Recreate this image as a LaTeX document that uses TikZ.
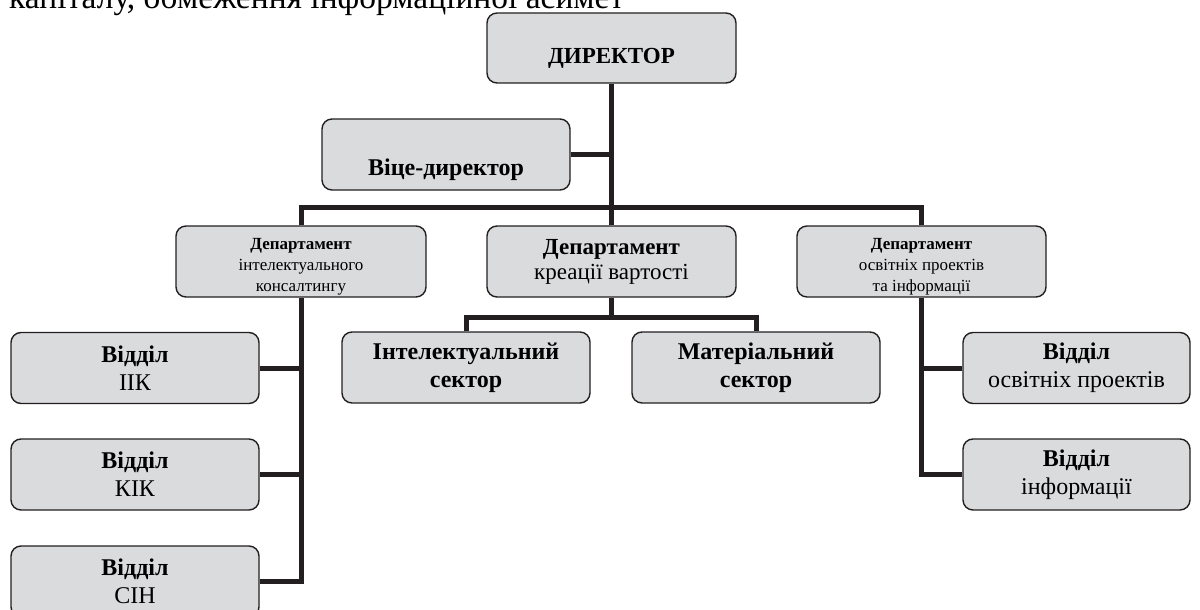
\documentclass[tikz,border=0pt]{standalone}
\usepackage{fontspec}
\setmainfont{Liberation Serif}
\usetikzlibrary{backgrounds}
\definecolor{boxfill}{HTML}{DADBDD}
\definecolor{boxline}{HTML}{231F20}
\begin{document}
\begin{tikzpicture}[x=1pt,y=-1pt,
  box/.style={draw=boxline, line width=1.4pt, fill=boxfill, rounded corners=10pt,
              align=center, inner sep=0pt, minimum width=248pt, minimum height=71pt},
  txt/.style={align=center, inner sep=0pt},
  conn/.style={line width=5pt, draw=boxline, line join=miter},
  fbig/.style={font=\fontsize{24}{28}\selectfont},
  fmid/.style={font=\fontsize{23}{25}\selectfont},
  fsmall/.style={font=\fontsize{17}{21}\selectfont},
]
\path[use as bounding box] (0,0) rectangle (1200,610);
\clip (0,0) rectangle (1200,610);

\node[anchor=base west, font=\fontsize{33.5}{38}\selectfont, inner sep=0pt] (toptext) at (9,9)
  {капіталу, обмеження інформаційної асимет};

\node[box, minimum width=249pt, minimum height=70pt] (dir) at (611.5,48) {};
\node[txt, font=\fontsize{23}{28}\selectfont\bfseries, yshift=-10pt] (dirt) at (dir) {ДИРЕКТОР};

\node[box] (vice) at (446,154.5) {};
\node[txt, font=\fontsize{24}{28}\selectfont\bfseries, yshift=-15pt] (vicet) at (vice) {Віце-директор};

\node[box, minimum width=250pt] (dL) at (301,261.5) {};
\node[txt, fsmall, yshift=-5pt] (dLt) at (dL)
  {\textbf{Департамент}\\інтелектуального\\консалтингу};
\node[box, fmid, minimum width=249pt] (dM) at (611.5,261.5)
  {\textbf{Департамент}\\креації вартості};
\node[box, minimum width=249pt] (dR) at (921.5,261.5) {};
\node[txt, fsmall, yshift=-5pt] (dRt) at (dR)
  {\textbf{Департамент}\\освітніх проектів\\та інформації};

\node[box, fbig] (sI) at (466,367.5) {\textbf{Інтелектуальний}\\\textbf{сектор}};
\node[box, fbig] (sM) at (756,367.5) {\textbf{Матеріальний}\\\textbf{сектор}};

\node[box, fbig] (o1) at (135,368) {\textbf{Відділ}\\ІІК};
\node[box, fbig] (o2) at (135,474.5) {\textbf{Відділ}\\КІК};
\node[box, fbig] (o3) at (135,581.5) {\textbf{Відділ}\\СІН};

\node[box, fbig, minimum width=227pt] (o4) at (1076.5,368) {\textbf{Відділ}\\освітніх проектів};
\node[box, fbig, minimum width=227pt] (o5) at (1076.5,474.5) {\textbf{Відділ}\\інформації};

\coordinate (bar) at (0,207);
\coordinate (sbar) at (0,317);

\begin{scope}[on background layer]
  \draw[conn] (dir.south) -- (dM.north);
  \draw[conn] (vice.east) -- (vice.east -| dir.south);
  \draw[conn] (dL.north) -- (dL.north |- bar) -- (dR.north |- bar) -- (dR.north);
  \draw[conn] (dL.south) -- (dL.south |- o3.east) -- (o3.east);
  \draw[conn] (o1.east) -- (o1.east -| dL.south);
  \draw[conn] (o2.east) -- (o2.east -| dL.south);
  \draw[conn] (dM.south) -- (dM.south |- sbar);
  \draw[conn] (sI.north) -- (sI.north |- sbar) -- (sM.north |- sbar) -- (sM.north);
  \draw[conn] (dR.south) -- (dR.south |- o5.west) -- (o5.west);
  \draw[conn] (o4.west) -- (o4.west -| dR.south);
\end{scope}
\end{tikzpicture}
\end{document}
